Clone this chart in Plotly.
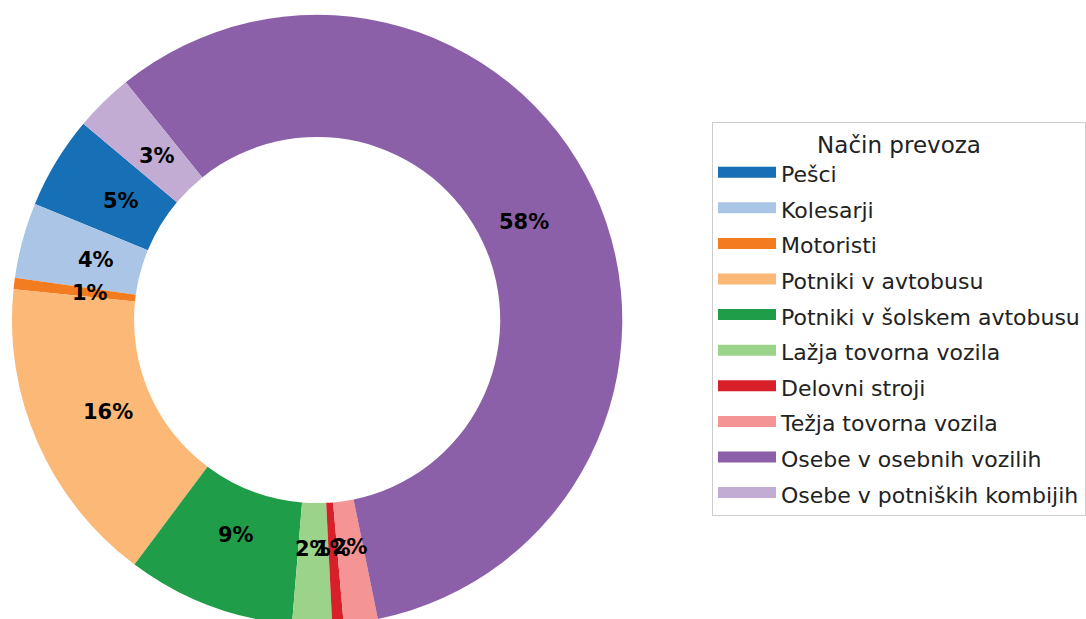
import math
import plotly.graph_objects as go

categories = [
    "Pešci",
    "Kolesarji",
    "Motoristi",
    "Potniki v avtobusu",
    "Potniki v šolskem avtobusu",
    "Lažja tovorna vozila",
    "Delovni stroji",
    "Težja tovorna vozila",
    "Osebe v osebnih vozilih",
    "Osebe v potniških kombijih",
]
values = [4.9, 4.0, 0.6, 16.4, 8.9, 2.1, 0.6, 1.8, 57.6, 3.1]
colors = ["#176fb5", "#abc5e6", "#f47c20", "#fcb876", "#1f9d48",
          "#9bd38a", "#d8202a", "#f59495", "#8b60a8", "#c2acd4"]
legend_title = "Način prevoza"

# figure / pie geometry (pixels)
W, H = 1086, 633
CX, CY, R = 318, 320, 306          # centre (from top-left) and outer radius
HOLE = 0.6
START_ANGLE = 140                  # degrees, counterclockwise from 3 o'clock
PCT_DIST = 0.75

total = sum(values)
dom_x = [(CX - R) / W, (CX + R) / W]
dom_y = [(H - CY - R) / H, (H - CY + R) / H]

# plotly: rotation marks the boundary between first and second slice
first_end = START_ANGLE + values[0] / total * 360
rotation = 90 - first_end

fig = go.Figure()
fig.add_trace(go.Pie(
    labels=categories,
    values=values,
    sort=False,
    direction="counterclockwise",
    rotation=rotation,
    hole=HOLE,
    marker=dict(colors=colors, line=dict(width=0)),
    textinfo="none",
    hoverinfo="label+percent",
    showlegend=False,
    domain=dict(x=dom_x, y=dom_y),
))

# percentage labels at the middle angle of each wedge
annotations = []
cum = 0.0
for v in values:
    mid = math.radians(START_ANGLE + (cum + v / 2) / total * 360)
    cum += v
    px = CX + PCT_DIST * R * math.cos(mid)
    py = CY - PCT_DIST * R * math.sin(mid)
    annotations.append(dict(
        x=px / W, y=1 - py / H, xref="paper", yref="paper",
        text="<b>%.0f%%</b>" % (v / total * 100),
        showarrow=False, xanchor="center", yanchor="middle",
        font=dict(family="DejaVu Sans", size=21, color="black"),
    ))

# legend entries (wide colour swatches)
for name, col in zip(categories, colors):
    fig.add_trace(go.Scatter(
        x=[None], y=[None], mode="lines", name=name,
        fill="toself", fillcolor=col,
        line=dict(color=col, width=10), legendgroup=name,
        showlegend=True, hoverinfo="skip",
    ))

fig.update_layout(
    width=W, height=H,
    margin=dict(l=0, r=0, t=0, b=0),
    paper_bgcolor="white",
    plot_bgcolor="white",
    xaxis=dict(visible=False),
    yaxis=dict(visible=False),
    annotations=annotations,
    font=dict(family="DejaVu Sans", size=22, color="#222"),
    legend=dict(
        x=714 / W, y=1 - 122 / H, xanchor="left", yanchor="top",
        bordercolor="#cccccc", borderwidth=1,
        bgcolor="white",
        tracegroupgap=4,
        itemwidth=58,
        font=dict(family="DejaVu Sans", size=22, color="#222"),
        title=dict(text=legend_title, side="top center",
                   font=dict(family="DejaVu Sans", size=23, color="#222")),
    ),
)

fig.write_html(
    "out.html",
    config={"displayModeBar": False},
    post_script=("document.body.style.margin='0';"
                 "document.body.style.overflow='hidden';"
                 "document.documentElement.style.overflow='hidden';"),
)
